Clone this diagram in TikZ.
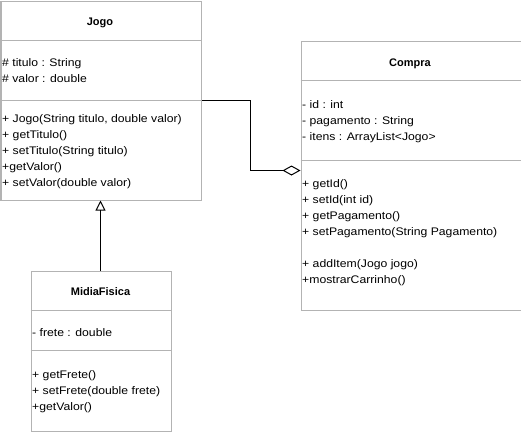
\documentclass[tikz,border=0pt]{standalone}
\usepackage{fontspec}
\setmainfont[FakeStretch=1.11]{Liberation Sans}
\newfontfamily\titlefont{Liberation Sans}
\usetikzlibrary{arrows.meta}
\definecolor{umlgray}{RGB}{179,179,179}
\begin{document}
\begin{tikzpicture}[x=1bp,y=-1bp,
  classbox/.style={draw=umlgray,line width=1bp,rectangle,inner sep=0pt,anchor=north west},
  member/.style={anchor=base west,inner sep=0pt,font=\fontsize{11bp}{13bp}\selectfont},
  classname/.style={anchor=base,inner sep=0pt,font=\titlefont\fontsize{11bp}{13bp}\selectfont\bfseries},
  divider/.style={draw=umlgray,line width=1bp},
  link/.style={draw=black,line width=1bp}]
\useasboundingbox (0,0) rectangle (521,431);

% class Jogo
\node[classbox,minimum width=200bp,minimum height=199bp] (jogo) at (0.5,0.5) {};
\draw[divider] (0.5,40.5) -- (200.5,40.5);
\draw[divider] (0.5,100.5) -- (200.5,100.5);
\node[classname] (jogoT) at (100,25) {Jogo};
\node[member] (j1) at (2,66.5) {\# titulo : String};
\node[member] (j2) at (2,82.5) {\# valor : double};
\node[member] (j3) at (2,122.5) {+ Jogo(String titulo, double valor)};
\node[member] (j4) at (2,138.5) {+ getTitulo()};
\node[member] (j5) at (2,154.5) {+ setTitulo(String titulo)};
\node[member] (j6) at (2,170.5) {+getValor()};
\node[member] (j7) at (2,186.5) {+ setValor(double valor)};

% class Compra
\node[classbox,minimum width=220bp,minimum height=269bp] (compra) at (300.5,40.5) {};
\draw[divider] (300.5,80.5) -- (520.5,80.5);
\draw[divider] (300.5,160.5) -- (520.5,160.5);
\node[classname] (compraT) at (410,66) {Compra};
\node[member] (c1) at (302,108.5) {- id : int};
\node[member] (c2) at (302,124.5) {- pagamento : String};
\node[member] (c3) at (302,140.5) {- itens : ArrayList<Jogo>};
\node[member] (c4) at (302,187) {+ getId()};
\node[member] (c5) at (302,203) {+ setId(int id)};
\node[member] (c6) at (302,219) {+ getPagamento()};
\node[member] (c7) at (302,235) {+ setPagamento(String Pagamento)};
\node[member] (c8) at (302,267) {+ addItem(Jogo jogo)};
\node[member] (c9) at (302,283) {+mostrarCarrinho()};

% class MidiaFisica
\node[classbox,minimum width=140bp,minimum height=160bp] (midia) at (30.5,270.5) {};
\draw[divider] (30.5,310.5) -- (170.5,310.5);
\draw[divider] (30.5,350.5) -- (170.5,350.5);
\node[classname] (midiaT) at (100.5,295) {MidiaFisica};
\node[member] (m1) at (32,336) {- frete : double};
\node[member] (m2) at (32,378) {+ getFrete()};
\node[member] (m3) at (32,394) {+ setFrete(double frete)};
\node[member] (m4) at (32,410) {+getValor()};

% aggregation Compra <>-- Jogo
\coordinate (bend1) at (250.5,100.5);
\coordinate (bend2) at (250.5,170.5);
\draw[link,-{Diamond[open,length=18bp,width=10bp,line width=1bp]}]
  (jogo.east |- bend1) -- (bend1) -- (bend2) -- (compra.west |- bend2);

% generalisation MidiaFisica --|> Jogo
\draw[link,-{Triangle[open,length=10bp,width=10bp,line width=1bp]}]
  (midia.north -| 100.5,0) -- (jogo.south -| 100.5,0);
\end{tikzpicture}
\end{document}
